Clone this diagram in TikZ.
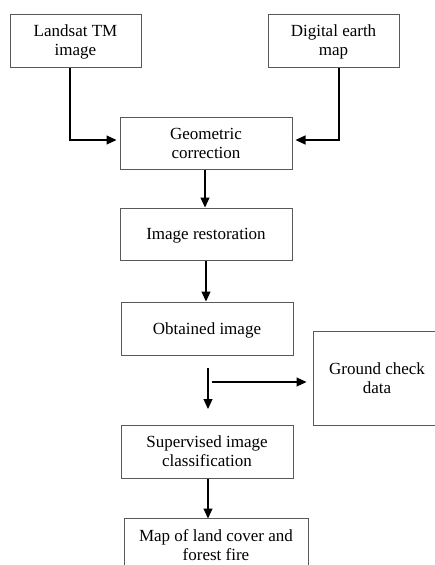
\documentclass[tikz,border=0pt]{standalone}
\usepackage{fontspec}
\setmainfont{Liberation Serif}
\usetikzlibrary{arrows.meta,calc}
\begin{document}
\begin{tikzpicture}[x=1pt,y=1pt,
  box/.style={draw=black!65,line width=1pt,rectangle,align=center,inner sep=0pt,
    text depth=0pt,font=\fontsize{17}{19}\selectfont,text=black},
  arr/.style={line width=1.2pt,-{Triangle[length=10pt,width=9pt]}},
  ln/.style={line width=1.2pt}]
\useasboundingbox (0,0) rectangle (435,-565);
\clip (0,0) rectangle (435,-565);
\node[box,minimum width=131pt,minimum height=53pt] (L) at (75.5,-40.5) {Landsat TM\\image};
\node[box,minimum width=131pt,minimum height=53pt] (D) at (333.5,-40.5) {Digital earth\\map};
\node[box,minimum width=172pt,minimum height=52pt] (G) at (206,-143) {Geometric\\correction};
\node[box,minimum width=172pt,minimum height=52pt] (R) at (206,-234) {Image restoration};
\node[box,minimum width=172pt,minimum height=53pt] (O) at (207,-328.5) {Obtained image};
\node[box,minimum width=128pt,minimum height=94pt] (C) at (377,-378) {Ground check\\data};
\node[box,minimum width=172pt,minimum height=53pt] (S) at (207,-451.5) {Supervised image\\classification};
\node[box,minimum width=184pt,minimum height=54pt] (M) at (216,-545) {Map of land cover and\\forest fire};
\draw[arr] ($(L.south)+(-5.5,0)$) |- ($(G.west)+(-3,3)$);
\draw[arr] ($(D.south)+(5.5,0)$) |- ($(G.east)+(3,3)$);
\draw[arr] ($(G.south)+(-1,0)$) -- ($(R.north)+(-1,0)$);
\draw[arr] (R.south) -- (R.south |- O.north);
\coordinate (t0) at (208,-368);
\coordinate (t1) at (208,-409);
\coordinate (h0) at (212,-382);
\draw[arr] (t0) -- (t1);
\draw[arr] (h0) -- (h0 -| {$(C.west)+(-6,0)$});
\draw[arr] ($(S.south)+(1,0)$) -- ($(S.south)+(1,-40)$);
\end{tikzpicture}
\end{document}
